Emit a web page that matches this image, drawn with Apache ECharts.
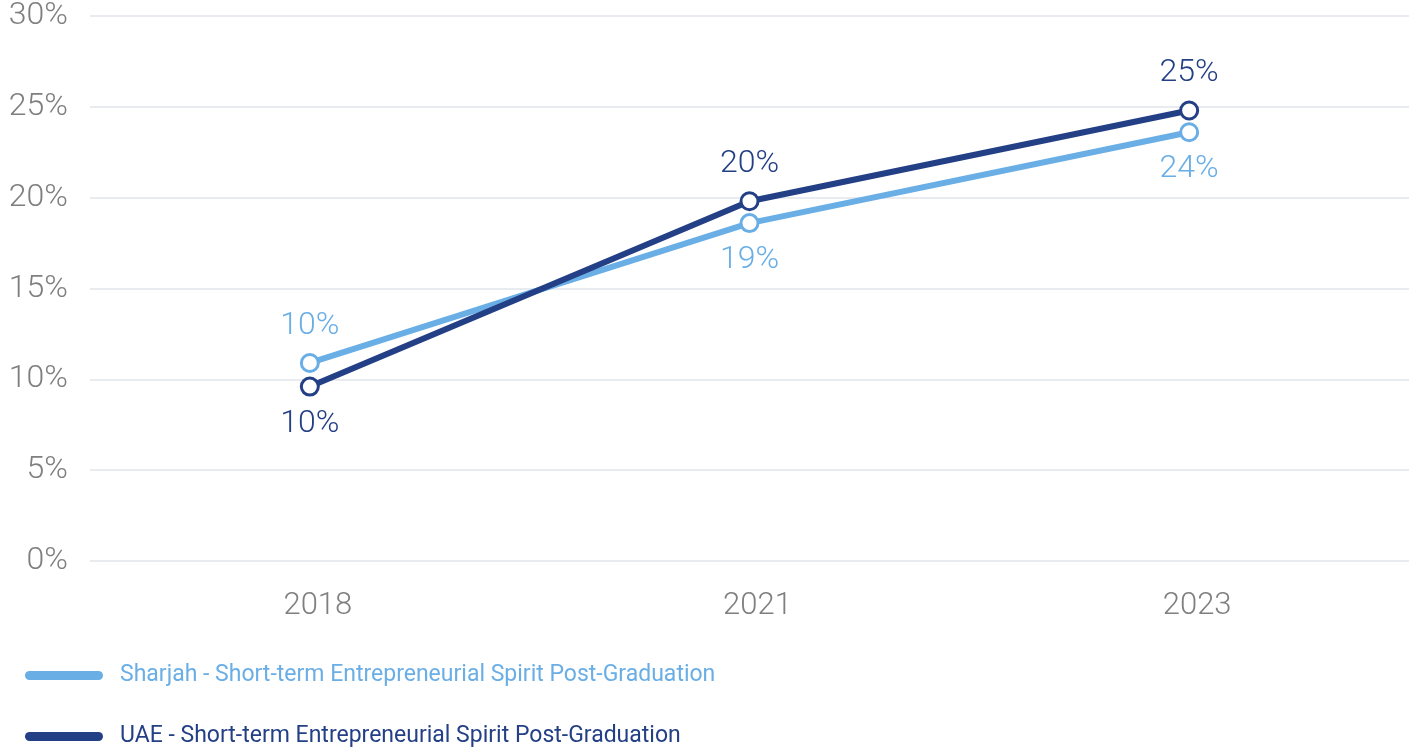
<!DOCTYPE html>
<html>
<head>
<meta charset="utf-8">
<script src="https://cdn.jsdelivr.net/npm/echarts@6/dist/echarts.min.js"></script>
<style>
html,body{margin:0;padding:0;background:#fff;}
#chart{width:1416px;height:749px;}
</style>
</head>
<body>
<div id="chart"></div>
<script>
const categories = ['2018', '2021', '2023'];
const sharjahName = 'Sharjah - Short-term Entrepreneurial Spirit Post-Graduation';
const uaeName = 'UAE - Short-term Entrepreneurial Spirit Post-Graduation';
const sharjahValues = [10.9, 18.6, 23.6];
const uaeValues = [9.6, 19.8, 24.8];
const sharjahLabels = ['10%', '19%', '24%'];
const uaeLabels = ['10%', '20%', '25%'];
const yTicks = [0, 5, 10, 15, 20, 25, 30];

const lightBlue = '#6aaee6';
const navy = '#233f85';
const font = 'Roboto';

const sharjahPos = ['top', 'bottom', 'bottom'];
const uaePos = ['bottom', 'top', 'top'];

function mkSeries(name, values, labels, pos, color, z) {
  return {
    name: name,
    type: 'line',
    z: z,
    data: values.map((v, i) => ({
      value: v,
      label: { position: pos[i], formatter: labels[i] }
    })),
    lineStyle: { color: color, width: 6 },
    itemStyle: { color: '#fff', borderColor: color, borderWidth: 3 },
    symbol: 'circle',
    symbolSize: 17,
    showSymbol: true,
    label: {
      show: true,
      distance: 11,
      color: color,
      fontFamily: font,
      fontWeight: 300,
      fontSize: 32
    },
    emphasis: { disabled: true }
  };
}

const chart = echarts.init(document.getElementById('chart'));
chart.setOption({
  animation: false,
  backgroundColor: '#fff',
  grid: { left: 90, right: 7, top: 15, bottom: 188, containLabel: false },
  legend: {
    orient: 'vertical',
    left: 25,
    top: 664,
    padding: 0,
    itemWidth: 78,
    itemHeight: 9,
    itemGap: 38,
    icon: 'path://M4.5,0 H73.5 A4.5,4.5 0 0 1 73.5,9 H4.5 A4.5,4.5 0 0 1 4.5,0 Z',
    textStyle: { fontFamily: font, fontSize: 23, padding: [0, 0, 0, 12] },
    selectedMode: false,
    data: [
      { name: sharjahName, itemStyle: { color: lightBlue, borderWidth: 0 }, textStyle: { color: lightBlue } },
      { name: uaeName, itemStyle: { color: navy, borderWidth: 0 }, textStyle: { color: navy } }
    ]
  },
  xAxis: {
    type: 'category',
    data: categories,
    boundaryGap: true,
    axisLine: { show: false },
    axisTick: { show: false },
    axisLabel: {
      margin: 30,
      color: '#7f7f80',
      fontFamily: font,
      fontWeight: 300,
      fontSize: 31,
      padding: [0, 0, 0, 16]
    }
  },
  yAxis: {
    type: 'value',
    min: yTicks[0],
    max: yTicks[yTicks.length - 1],
    interval: 5,
    axisLine: { show: false },
    axisTick: { show: false },
    splitLine: { lineStyle: { color: '#e8ebf0', width: 2 } },
    axisLabel: {
      margin: 22,
      color: '#7f7f80',
      fontFamily: font,
      fontWeight: 300,
      fontSize: 32,
      formatter: v => v + '%'
    }
  },
  series: [
    mkSeries(sharjahName, sharjahValues, sharjahLabels, sharjahPos, lightBlue, 2),
    mkSeries(uaeName, uaeValues, uaeLabels, uaePos, navy, 3)
  ]
});
</script>
</body>
</html>
